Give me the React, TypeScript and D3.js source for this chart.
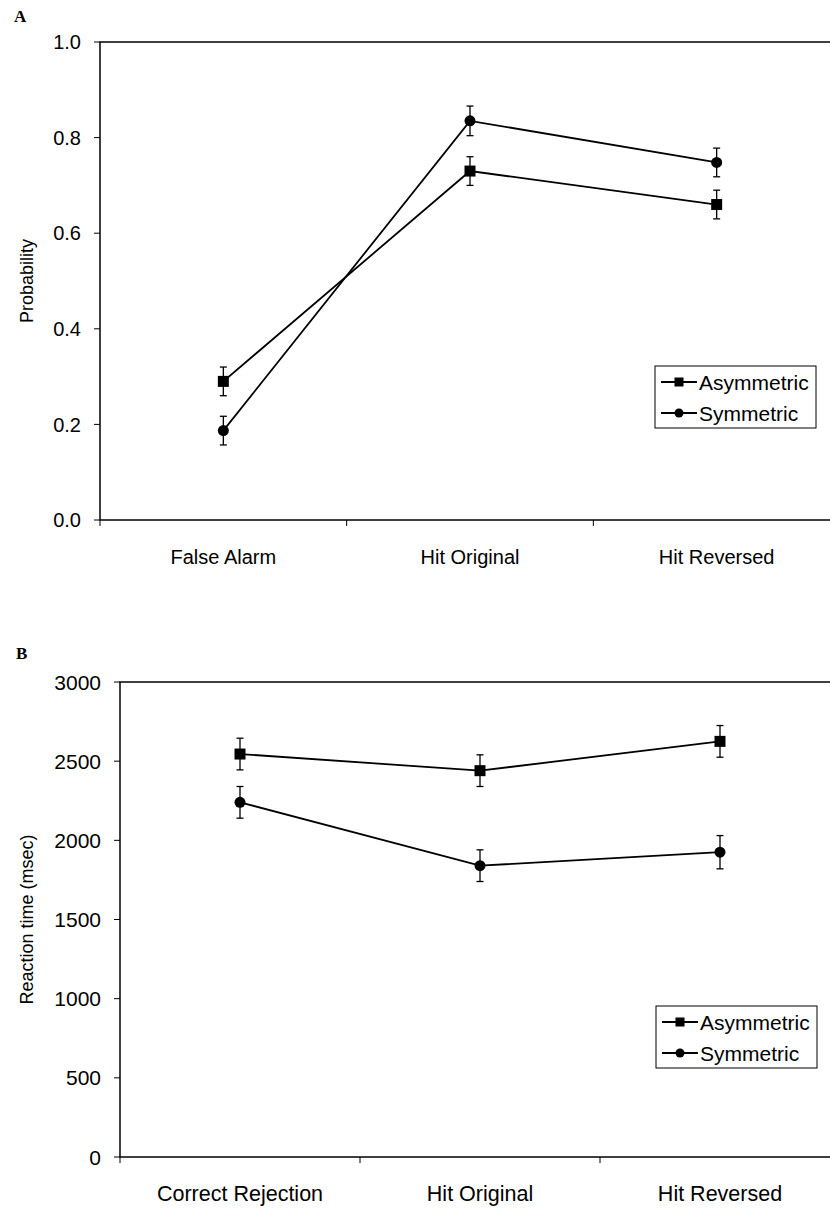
import * as d3 from 'd3'
import React from 'react'

const W = 830
const H = 1208
const FONT = '"Liberation Sans", Arial, sans-serif'

// panel A: probabilities
const probCategories = ['False Alarm', 'Hit Original', 'Hit Reversed']
const probAsymmetric = [0.29, 0.73, 0.66]
const probSymmetric = [0.187, 0.835, 0.748]
const probAsymmetricErr = [0.03, 0.03, 0.03]
const probSymmetricErr = [0.03, 0.031, 0.03]
const probTicks = [0, 0.2, 0.4, 0.6, 0.8, 1.0]

// panel B: reaction times
const rtCategories = ['Correct Rejection', 'Hit Original', 'Hit Reversed']
const rtAsymmetric = [2545, 2440, 2625]
const rtSymmetric = [2240, 1840, 1925]
const rtAsymmetricErr = [100, 100, 100]
const rtSymmetricErr = [100, 100, 105]
const rtTicks = [0, 500, 1000, 1500, 2000, 2500, 3000]

const seriesNames = ['Asymmetric', 'Symmetric']

const Marker = ({ type, x, y, size }) => {
  if (type === 'square') {
    return <rect x={x - size / 2} y={y - size / 2} width={size} height={size} fill="#000" />
  }
  return <circle cx={x} cy={y} r={size / 2} fill="#000" />
}

const Panel = ({ letter, letterY, box, categories, series, ticks, tickFormat, yTitle, tickFont, catFont, catY, legend }) => {
  const x = d3.scaleBand().domain(categories).range([box.left, box.right]).padding(0)
  const y = d3.scaleLinear().domain([ticks[0], ticks[ticks.length - 1]]).range([box.bottom, box.top])
  const cx = c => x(c) + x.bandwidth() / 2
  const line = d3
    .line()
    .x(d => cx(d.c))
    .y(d => y(d.v))

  const boundaries = categories.map(c => x(c))

  return (
    <g>
      <text x={letter.x} y={letterY} fontFamily="'Liberation Serif', 'Times New Roman', serif" fontWeight="bold" fontSize={17}>
        {letter.text}
      </text>

      {/* frame, right edge falls outside the page like the scan */}
      <rect x={box.left} y={box.top} width={box.right - box.left} height={box.bottom - box.top} fill="none" stroke="#000" strokeWidth={1.5} />

      {/* y ticks */}
      {ticks.map(t => (
        <g key={t}>
          <line x1={box.left - 6} x2={box.left} y1={y(t)} y2={y(t)} stroke="#000" strokeWidth={1} />
          <text x={box.left - 19} y={y(t)} dy="0.36em" textAnchor="end" fontFamily={FONT} fontSize={tickFont}>
            {tickFormat(t)}
          </text>
        </g>
      ))}

      {/* x ticks on category boundaries */}
      {boundaries.map((b, i) => (
        <line key={i} x1={b} x2={b} y1={box.bottom} y2={box.bottom + 6} stroke="#000" strokeWidth={1} />
      ))}
      {categories.map(c => (
        <text key={c} x={cx(c)} y={catY} textAnchor="middle" fontFamily={FONT} fontSize={catFont}>
          {c}
        </text>
      ))}

      <text
        transform={`translate(33,${(box.top + box.bottom) / 2}) rotate(-90)`}
        textAnchor="middle"
        fontFamily={FONT}
        fontSize={18}
      >
        {yTitle}
      </text>

      {/* series */}
      {series.map(s => {
        const pts = categories.map((c, i) => ({ c, v: s.values[i], e: s.err[i] }))
        return (
          <g key={s.name}>
            <path d={line(pts)} fill="none" stroke="#000" strokeWidth={1.8} />
            {pts.map(p => (
              <g key={p.c}>
                <line x1={cx(p.c)} x2={cx(p.c)} y1={y(p.v - p.e)} y2={y(p.v + p.e)} stroke="#000" strokeWidth={1.3} />
                <line x1={cx(p.c) - 3.5} x2={cx(p.c) + 3.5} y1={y(p.v + p.e)} y2={y(p.v + p.e)} stroke="#000" strokeWidth={1.3} />
                <line x1={cx(p.c) - 3.5} x2={cx(p.c) + 3.5} y1={y(p.v - p.e)} y2={y(p.v - p.e)} stroke="#000" strokeWidth={1.3} />
                <Marker type={s.marker} x={cx(p.c)} y={y(p.v)} size={11} />
              </g>
            ))}
          </g>
        )
      })}

      {/* legend */}
      <rect x={legend.x} y={legend.y} width={161} height={62} fill="#fff" stroke="#000" strokeWidth={1} />
      {series.map((s, i) => {
        const ly = legend.y + 16 + i * 31
        return (
          <g key={s.name}>
            <line x1={legend.x + 6} x2={legend.x + 42} y1={ly} y2={ly} stroke="#000" strokeWidth={1.8} />
            <Marker type={s.marker} x={legend.x + 24} y={ly} size={9} />
            <text x={legend.x + 44} y={ly} dy="0.36em" fontFamily={FONT} fontSize={21}>
              {s.name}
            </text>
          </g>
        )
      })}
    </g>
  )
}

export default function App() {
  const probSeries = [
    { name: seriesNames[0], values: probAsymmetric, err: probAsymmetricErr, marker: 'square' },
    { name: seriesNames[1], values: probSymmetric, err: probSymmetricErr, marker: 'circle' },
  ]
  const rtSeries = [
    { name: seriesNames[0], values: rtAsymmetric, err: rtAsymmetricErr, marker: 'square' },
    { name: seriesNames[1], values: rtSymmetric, err: rtSymmetricErr, marker: 'circle' },
  ]

  return (
    <svg width={W} height={H} style={{ position: 'absolute', left: 0, top: 0, background: '#fff' }}>
      <rect width={W} height={H} fill="#fff" />
      <Panel
        letter={{ text: 'A', x: 14 }}
        letterY={22}
        box={{ left: 100, right: 840, top: 42, bottom: 520 }}
        categories={probCategories}
        series={probSeries}
        ticks={probTicks}
        tickFormat={d3.format('.1f')}
        yTitle="Probability"
        tickFont={20}
        catFont={20}
        catY={564}
        legend={{ x: 655, y: 366 }}
      />
      <Panel
        letter={{ text: 'B', x: 16 }}
        letterY={659}
        box={{ left: 120, right: 840, top: 682, bottom: 1157 }}
        categories={rtCategories}
        series={rtSeries}
        ticks={rtTicks}
        tickFormat={d3.format('d')}
        yTitle="Reaction time (msec)"
        tickFont={21}
        catFont={21.5}
        catY={1201}
        legend={{ x: 656, y: 1006 }}
      />
    </svg>
  )
}
